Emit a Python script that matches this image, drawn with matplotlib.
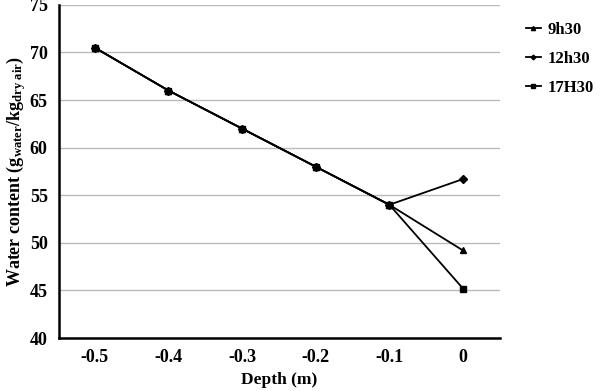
import numpy as np
from matplotlib import pyplot as plt

plt.rcParams['font.family'] = 'Liberation Serif'
plt.rcParams['font.weight'] = 'bold'
plt.rcParams['mathtext.fontset'] = 'custom'
plt.rcParams['mathtext.rm'] = 'Liberation Serif:bold'
plt.rcParams['mathtext.it'] = 'Liberation Serif:bold'
plt.rcParams['mathtext.bf'] = 'Liberation Serif:bold'

depth = [-0.5, -0.4, -0.3, -0.2, -0.1, 0.0]
h9h30 = [70.5, 66.0, 62.0, 58.0, 54.0, 49.2]
h12h30 = [70.5, 66.0, 62.0, 58.0, 54.0, 56.7]
h17h30 = [70.5, 66.0, 62.0, 58.0, 54.0, 45.2]
xticks = [-0.5, -0.4, -0.3, -0.2, -0.1, 0]
xlabels = ['-0.5', '-0.4', '-0.3', '-0.2', '-0.1', '0']

fig = plt.figure(figsize=(6.0, 3.91), dpi=100)
ax = fig.add_axes([0.098, 0.1355, 0.735, 0.852])

ax.plot(depth, h9h30, color='black', lw=1.3, marker='^', ms=5, label='9h30')
ax.plot(depth, h12h30, color='black', lw=1.3, marker='D', ms=4, label='12h30')
ax.plot(depth, h17h30, color='black', lw=1.3, marker='s', ms=5, label='17H30')

ax.set_xlim(-0.549, 0.05)
ax.set_ylim(40, 75)
ax.set_yticks(np.arange(40, 76, 5))
ax.set_xticks(xticks)
ax.set_xticklabels(xlabels)
ax.grid(axis='y', color='#bbbbbb', lw=1)
ax.set_axisbelow(True)
ax.tick_params(length=0, labelsize=13, pad=8)
for s in ['top', 'right']:
    ax.spines[s].set_visible(False)
for s in ['left', 'bottom']:
    ax.spines[s].set_linewidth(1.8)

ax.set_xlabel('Depth (m)', fontsize=12.5, fontweight='bold', labelpad=4)
ax.set_ylabel(r'Water content (g$_{\mathrm{water}}$/kg$_{\mathrm{dry\ air}}$)',
              fontsize=13, fontweight='bold', labelpad=1)

leg = ax.legend(loc='upper left', bbox_to_anchor=(1.025, 0.995), frameon=False,
                fontsize=12, handlelength=0.9, handletextpad=0.4,
                labelspacing=0.8, markerscale=0.6)

fig.savefig('out.png', dpi=100)
